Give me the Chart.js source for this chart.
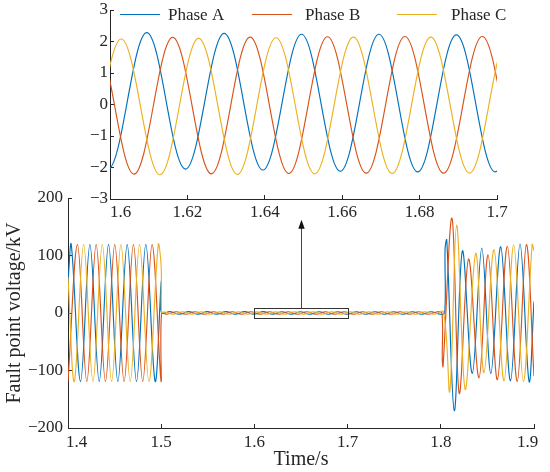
<!DOCTYPE html>
<html>
<head>
<meta charset="utf-8">
<script src="https://cdn.jsdelivr.net/npm/chart.js@4.4.1/dist/chart.umd.min.js"></script>
<style>
  html, body { margin: 0; padding: 0; background: #fff; }
  #wrap { position: relative; width: 550px; height: 472px; }
  #wrap canvas { position: absolute; left: 0; top: 0; }
</style>
</head>
<body>
<div id="wrap">
  <canvas id="mainChart" width="550" height="472"></canvas>
  <canvas id="insetChart" width="550" height="230"></canvas>
</div>
<script>
// ─── Data: turning points (time in s, voltage in kV) ───
const timeA = [
  1.4000, 1.4035, 1.4135, 1.4235, 1.4335, 1.4435, 1.4535, 1.4635, 1.4735, 1.4835, 1.4935, 1.5000, 1.5004,
  1.5095, 1.5195, 1.5295, 1.5395, 1.5495, 1.5595, 1.5695, 1.5795, 1.5895, 1.5995,
  1.6095, 1.6195, 1.6295, 1.6395, 1.6495, 1.6595, 1.6695, 1.6795, 1.6895, 1.6995,
  1.7095, 1.7195, 1.7295, 1.7395, 1.7495, 1.7595, 1.7695, 1.7795, 1.7895, 1.7995,
  1.8042, 1.8046, 1.8064, 1.8145, 1.8232, 1.8338, 1.8440, 1.8537, 1.8643, 1.8748, 1.8850, 1.8947, 1.9000
];
const voltA = [
  54, 119, -119, 119, -119, 119, -119, 119, -119, 119, -119, 54, 0.5,
  2.3, -2.0, 2.3, -2.0, 2.3, -2.0, 2.3, -2.0, 2.3, -2.05,
  2.28, -2.05, 2.26, -2.08, 2.23, -2.12, 2.23, -2.14, 2.21, -2.14,
  2.2, -2.15, 2.2, -2.15, 2.2, -2.15, 2.2, -2.15, 2.2, -2.15,
  0, 112, 127, -170, 108, -105, 113, -105, 115, -118, 120, -119, 20
];
const timeB = [
  1.4000, 1.4102, 1.4202, 1.4302, 1.4402, 1.4502, 1.4602, 1.4702, 1.4802, 1.4902, 1.4998, 1.5004,
  1.5062, 1.5162, 1.5262, 1.5362, 1.5462, 1.5562, 1.5662, 1.5762, 1.5862, 1.5962,
  1.6062, 1.6162, 1.6262, 1.6362, 1.6462, 1.6562, 1.6662, 1.6762, 1.6862, 1.6962,
  1.7062, 1.7162, 1.7262, 1.7362, 1.7462, 1.7562, 1.7662, 1.7762, 1.7862, 1.7962,
  1.8012, 1.8016, 1.8024, 1.8120, 1.8198, 1.8298, 1.8410, 1.8507, 1.8607, 1.8714, 1.8820, 1.8918, 1.9000
];
const voltB = [
  -119, 119, -119, 119, -119, 119, -119, 119, -119, 119, -118, -0.5,
  -2.2, 2.1, -2.2, 2.1, -2.2, 2.1, -2.2, 2.1, -2.2, 2.12,
  -2.21, 2.13, -2.2, 2.14, -2.19, 2.15, -2.18, 2.16, -2.18, 2.16,
  -2.18, 2.16, -2.18, 2.16, -2.18, 2.16, -2.18, 2.16, -2.18, 2.16,
  0, -80, -93, 165, -140, 94, -113, 101, -116, 116, -119, 119, -110
];
const timeC = [
  1.4000, 1.4068, 1.4168, 1.4268, 1.4368, 1.4468, 1.4568, 1.4668, 1.4768, 1.4868, 1.4968, 1.5000, 1.5004,
  1.5029, 1.5129, 1.5229, 1.5329, 1.5429, 1.5529, 1.5629, 1.5729, 1.5829, 1.5929,
  1.6029, 1.6129, 1.6229, 1.6329, 1.6429, 1.6529, 1.6629, 1.6729, 1.6829, 1.6929,
  1.7029, 1.7129, 1.7229, 1.7329, 1.7429, 1.7529, 1.7629, 1.7729, 1.7829, 1.7929,
  1.8029, 1.8096, 1.8170, 1.8262, 1.8375, 1.8464, 1.8571, 1.8679, 1.8782, 1.8886, 1.8980, 1.9000
];
const voltC = [
  62, -119, 119, -119, 119, -119, 119, -119, 119, -119, 119, 80, 0.5,
  2.1, -2.2, 2.1, -2.2, 2.1, -2.2, 2.1, -2.2, 2.1, -2.23,
  2.08, -2.23, 2.10, -2.22, 2.12, -2.2, 2.14, -2.19, 2.14, -2.18,
  2.14, -2.18, 2.14, -2.18, 2.14, -2.18, 2.14, -2.18, 2.14, -2.18,
  2.14, -136, 153, -133, 104, -104, 110, -118, 118, -119, 119, 108
];

const phaseLabels = ['Phase A', 'Phase B', 'Phase C'];
const phaseColors = ['#0072BD', '#D95319', '#EDB120'];

const mainTimeTicks = [1.4, 1.5, 1.6, 1.7, 1.8, 1.9];
const mainVoltTicks = [-200, -100, 0, 100, 200];
const insetTimeTicks = [1.6, 1.62, 1.64, 1.66, 1.68, 1.7];
const insetVoltTicks = [-3, -2, -1, 0, 1, 2, 3];

// zoomed window marked on the main plot, and where its arrow ends (kV)
const zoomBox = { t0: 1.6, t1: 1.7, v0: -9, v1: 9 };
const arrowTipVolt = 162;

// ─── Shared look ───
Chart.defaults.font.family = '"Liberation Serif", "Times New Roman", serif';
Chart.defaults.font.size = 17;
Chart.defaults.color = '#262626';
Chart.defaults.animation = false;
const axisColor = '#262626';

const phaseData = [[timeA, voltA], [timeB, voltB], [timeC, voltC]];

function buildDatasets() {
    return phaseData.map(([t, v], i) => ({
        label: phaseLabels[i],
        data: t.map((tt, k) => ({ x: tt, y: v[k] })),
        borderColor: phaseColors[i],
        borderWidth: 1.15,
        pointRadius: 0,
        tension: 0.36,
        fill: false,
        order: 3 - i          // MATLAB-like stacking: Phase C on top
    }));
}

// pin an axis box to a fixed width/height so the plot area lands where it should
function fixedAxis(size) {
    return function(scale) {
        if (scale.isHorizontal()) {
            scale.height = size;
            scale.paddingLeft = 0; scale.paddingRight = 0;
        } else {
            scale.width = size;
            scale.paddingTop = 0; scale.paddingBottom = 0;
        }
    };
}
const useTicks = arr => scale => { scale.ticks = arr.map(v => ({ value: v })); };
const near = (a, b) => Math.abs(a - b) < 1e-6;
const fmtTime = v => String(+v.toFixed(2));
const fmtNum = v => String(v).replace('-', '\u2212');

// ─── Box + arrow on the main plot ───
const zoomMarker = {
    id: 'zoomMarker',
    afterDatasetsDraw(chart) {
        const { ctx, scales: { x, y } } = chart;
        const left = Math.round(x.getPixelForValue(zoomBox.t0)) + 0.5;
        const right = Math.round(x.getPixelForValue(zoomBox.t1)) + 0.5;
        const top = Math.round(y.getPixelForValue(zoomBox.v1)) + 0.5;
        const bottom = Math.round(y.getPixelForValue(zoomBox.v0)) + 0.5;
        const ax = Math.round(x.getPixelForValue((zoomBox.t0 + zoomBox.t1) / 2)) + 0.5;
        const tip = y.getPixelForValue(arrowTipVolt);
        ctx.save();
        ctx.strokeStyle = '#333';
        ctx.lineWidth = 1;
        ctx.strokeRect(left, top, right - left, bottom - top);
        ctx.strokeStyle = '#444';
        ctx.beginPath();
        ctx.moveTo(ax, top);
        ctx.lineTo(ax, tip + 7);
        ctx.stroke();
        ctx.fillStyle = '#111';
        ctx.beginPath();
        ctx.moveTo(ax, tip);
        ctx.lineTo(ax - 3.2, tip + 9);
        ctx.lineTo(ax + 3.2, tip + 9);
        ctx.closePath();
        ctx.fill();
        ctx.restore();
    }
};

// ─── Legend laid over the top of the inset ───
const insetLegend = {
    id: 'insetLegend',
    afterDraw(chart) {
        const { ctx } = chart;
        const lineStarts = [120, 252, 397];
        const textStarts = [168, 305, 451];
        ctx.save();
        ctx.font = '17px "Liberation Serif", "Times New Roman", serif';
        ctx.textBaseline = 'alphabetic';
        chart.data.datasets.forEach((ds, i) => {
            ctx.strokeStyle = ds.borderColor;
            ctx.lineWidth = 1.2;
            ctx.beginPath();
            ctx.moveTo(lineStarts[i], 14.5);
            ctx.lineTo(lineStarts[i] + 40, 14.5);
            ctx.stroke();
            ctx.fillStyle = '#262626';
            ctx.fillText(ds.label, textStarts[i], 20);
        });
        ctx.restore();
    }
};

// ─── Main chart ───
new Chart(document.getElementById('mainChart'), {
    type: 'line',
    data: { datasets: buildDatasets() },
    options: {
        responsive: false,
        layout: { padding: { left: 0, right: 16, top: 198, bottom: 0 } },
        plugins: { legend: { display: false }, tooltip: { enabled: false } },
        scales: {
            x: {
                type: 'linear', min: 1.4, max: 1.9,
                afterBuildTicks: useTicks(mainTimeTicks),
                afterFit: fixedAxis(44),
                border: { color: axisColor, width: 1 },
                grid: { drawOnChartArea: false, tickLength: -4, color: axisColor },
                ticks: {
                    padding: 8, maxRotation: 0, autoSkip: false,
                    callback: v => near(v, 1.4) ? '    1.4' : near(v, 1.9) ? '1.9   ' : fmtTime(v)
                },
                title: { display: true, text: 'Time/s', font: { size: 20 }, padding: 0 }
            },
            y: {
                type: 'linear', min: -200, max: 200,
                afterBuildTicks: useTicks(mainVoltTicks),
                afterFit: fixedAxis(68),
                border: { color: axisColor, width: 1 },
                grid: { drawOnChartArea: false, tickLength: -4, color: axisColor },
                ticks: { padding: 9, callback: fmtNum },
                title: { display: true, text: 'Fault point voltage/kV', font: { size: 20 }, padding: { top: 3, bottom: 0 } }
            }
        }
    },
    plugins: [zoomMarker]
});

// ─── Inset (1.6 s – 1.7 s) ───
new Chart(document.getElementById('insetChart'), {
    type: 'line',
    data: { datasets: buildDatasets() },
    options: {
        responsive: false,
        layout: { padding: { left: 0, right: 53, top: 10, bottom: 0 } },
        plugins: { legend: { display: false }, tooltip: { enabled: false } },
        scales: {
            x: {
                type: 'linear', min: 1.6, max: 1.7,
                afterBuildTicks: useTicks(insetTimeTicks),
                afterFit: fixedAxis(31),
                border: { color: axisColor, width: 1 },
                grid: { drawOnChartArea: false, tickLength: -4, color: axisColor },
                ticks: {
                    padding: 7, maxRotation: 0, autoSkip: false,
                    callback: v => near(v, 1.6) ? '     1.6' : fmtTime(v)
                }
            },
            y: {
                type: 'linear', min: -3, max: 3,
                afterBuildTicks: useTicks(insetVoltTicks),
                afterFit: fixedAxis(110),
                border: { color: axisColor, width: 1 },
                grid: { drawOnChartArea: false, tickLength: -4, color: axisColor },
                ticks: { padding: 6, callback: fmtNum }
            }
        }
    },
    plugins: [insetLegend]
});
</script>
</body>
</html>
